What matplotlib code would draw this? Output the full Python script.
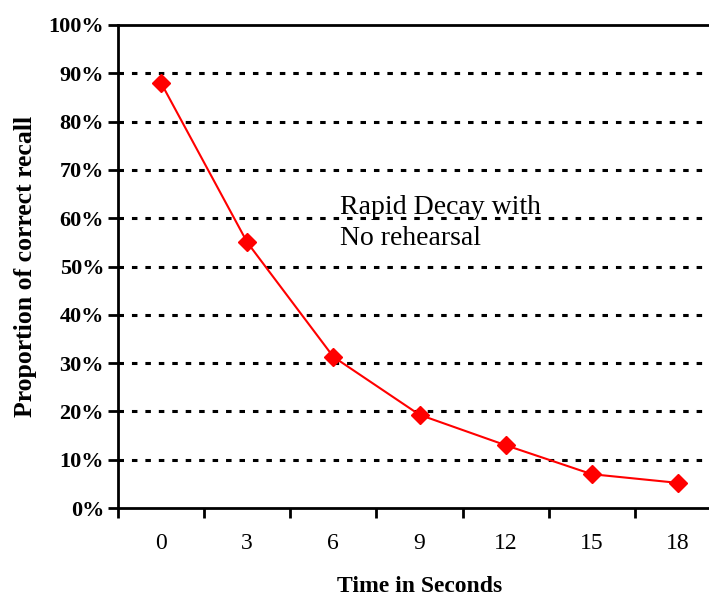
import matplotlib

matplotlib.use("Agg")
import matplotlib.pyplot as plt
import numpy as np

# Data
time_labels = ["0", "3", "6", "9", "12", "15", "18"]
recall = [0.88, 0.55, 0.313, 0.193, 0.13, 0.07, 0.052]
y_ticks = [0.0, 0.1, 0.2, 0.3, 0.4, 0.5, 0.6, 0.7, 0.8, 0.9, 1.0]

plt.rcParams["font.family"] = ["Liberation Serif", "DejaVu Serif"]

fig = plt.figure(figsize=(7.09, 5.99), dpi=100)
ax = fig.add_axes([118 / 709, 91 / 599, 603 / 709, 483 / 599])

x = np.arange(len(time_labels))
ax.plot(x, recall, color="red", linewidth=1.5, marker="D", markersize=9,
        markerfacecolor="red", markeredgecolor="red", zorder=3)

ax.set_xlim(-0.5, len(time_labels) - 0.5)
ax.set_ylim(0, 1.0)

ax.set_yticks(y_ticks)
ax.set_yticklabels([f"{int(round(v * 100))}%" for v in y_ticks],
                   fontsize=16, fontweight="bold")
ax.set_xticks(x)
ax.set_xticklabels(time_labels, fontsize=17)
ax.set_xticks(np.arange(-0.5, len(time_labels)), minor=True)

ax.tick_params(axis="x", which="major", length=0, pad=18)
ax.tick_params(axis="x", which="minor", length=7, width=2, direction="out")
ax.tick_params(axis="y", which="major", length=7, width=2, direction="out", pad=3)

for v in y_ticks[1:-1]:
    ax.axhline(v, color="black", linewidth=2.2, linestyle=(0, (1.8, 2.6)), zorder=1)

for side in ["left", "bottom", "top"]:
    ax.spines[side].set_linewidth(2)
ax.spines["right"].set_visible(False)

ax.set_xlabel("Time in Seconds", fontsize=17, fontweight="bold", labelpad=16)
ax.set_ylabel("Proportion of correct recall", fontsize=18.5, fontweight="bold", labelpad=8)

ax.text(2.077, 0.59, "Rapid Decay with\nNo rehearsal", fontsize=20,
        ha="left", va="center", linespacing=1.35)

fig.savefig("out.png", dpi=100)
